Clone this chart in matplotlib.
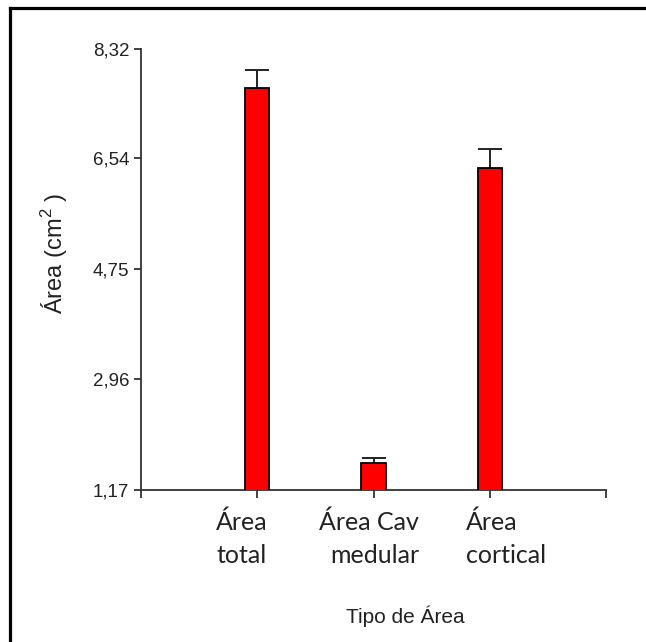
import matplotlib.pyplot as plt
import matplotlib.transforms as mtransforms
from matplotlib.lines import Line2D

plt.rcParams['font.family'] = ['Liberation Sans', 'DejaVu Sans']
plt.rcParams['mathtext.fontset'] = 'custom'
plt.rcParams['mathtext.rm'] = 'Liberation Sans'

categories = [["Área", "total"], ["Área Cav", "medular"], ["Área", "cortical"]]
areas = [7.68, 1.60, 6.39]
errors = [0.29, 0.09, 0.30]
yticks = [1.17, 2.96, 4.75, 6.54, 8.32]
ytick_labels = ["1,17", "2,96", "4,75", "6,54", "8,32"]

W, H = 646, 642
fig = plt.figure(figsize=(W / 100, H / 100), dpi=100)
ax = fig.add_axes([141 / W, 1 - 490 / H, 465 / W, (490 - 48.6) / H])

x = [1, 2, 3]
ax.bar(x, areas, width=0.21, color='#ff0000', edgecolor='black', linewidth=1.3, zorder=3)
# symmetric bars drawn underneath, so only the upper half shows above each bar
ax.errorbar(x, areas, yerr=errors, fmt='none', ecolor='#222222',
            elinewidth=1.4, capsize=8.6, capthick=1.4, zorder=2)

ax.set_xlim(0, 4)
ax.set_ylim(1.17, 8.32)
ax.set_yticks(yticks)
ax.set_yticklabels(ytick_labels)
ax.set_xticks([0, 1, 2, 3, 4])
ax.set_xticklabels([])

for s in ['top', 'right']:
    ax.spines[s].set_visible(False)
for s in ['left', 'bottom']:
    ax.spines[s].set_color('#333333')
    ax.spines[s].set_linewidth(1.3)

ax.tick_params(axis='y', length=5, width=1.3, color='#333333', pad=3.5,
               labelsize=13.5, labelcolor='#222222')
ax.tick_params(axis='x', length=6, width=1.3, color='#333333')

# category labels, two lines each, placed below the ticks (offsets in pixels)
line_dx = [(-41, -41), (-54.5, -43.5), (-23.5, -23.5)]
line_dy = (-40, -73)
base = mtransforms.blended_transform_factory(ax.transData, ax.transAxes)
for xi, lines, dxs in zip(x, categories, line_dx):
    for text, dx, dy in zip(lines, dxs, line_dy):
        off = mtransforms.ScaledTranslation(dx / 100, dy / 100, fig.dpi_scale_trans)
        ax.text(xi, 0, text, transform=base + off, fontfamily='Lato', fontsize=18,
                color='#222222', ha='left', va='baseline', clip_on=False)

fig.text(55 / W, 1 - 253 / H, "Área (cm$^{2}$ )", rotation=90, fontsize=17,
         color='#222222', ha='center', va='center')
fig.text(405 / W, 1 - 616 / H, "Tipo de Área", fontsize=15, color='#222222',
         ha='center', va='center')

# frame around the figure (top and left edges visible)
fig.add_artist(Line2D([9.5 / W, 1], [1 - 7.5 / H, 1 - 7.5 / H], color='black', lw=2.3))
fig.add_artist(Line2D([9.5 / W, 9.5 / W], [0, 1 - 7.5 / H], color='black', lw=2.3))

fig.savefig("out.png", dpi=100)
